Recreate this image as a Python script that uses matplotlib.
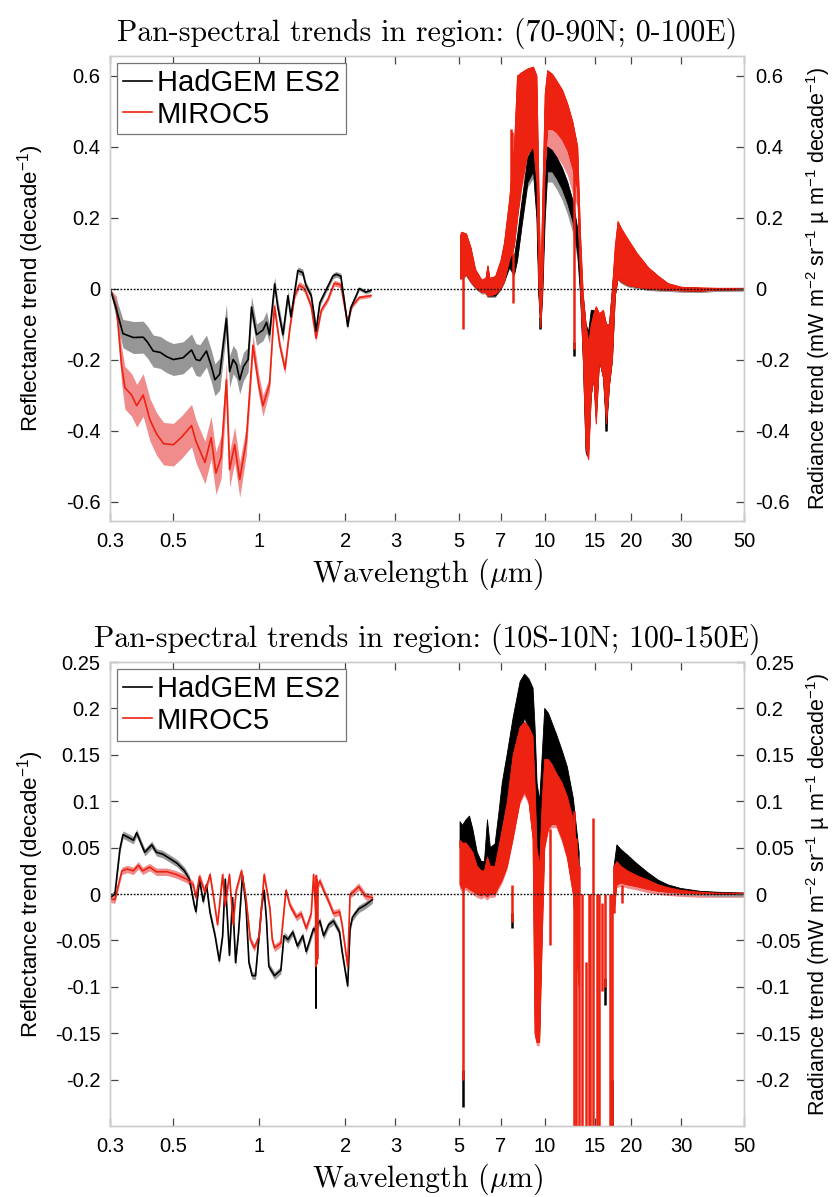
"""
Pan-spectral trends, HadGEM ES2 vs MIROC5
"""

import numpy as np
import matplotlib
matplotlib.use('Agg')
import matplotlib.pyplot as plt
from matplotlib.lines import Line2D

plt.rcParams['font.family'] = ['Liberation Sans', 'DejaVu Sans']
plt.rcParams['axes.unicode_minus'] = False
plt.rcParams['mathtext.fontset'] = 'custom'
plt.rcParams['mathtext.rm'] = 'Liberation Sans'
plt.rcParams['mathtext.it'] = 'Liberation Sans:italic'
plt.rcParams['mathtext.bf'] = 'Liberation Sans:bold'

RED = '#ee2211'
PINK = '#f08c8c'
GREY = '#969696'

# ---------------- axes ----------------
x_ticks = [0.3, 0.5, 1, 2, 3, 5, 7, 10, 15, 20, 30, 50]
x_labels = ['0.3', '0.5', '1', '2', '3', '5', '7', '10', '15', '20', '30', '50']
faint_ticks = [0.3, 3, 7, 15, 30]

top_yticks = [-0.6, -0.4, -0.2, 0, 0.2, 0.4, 0.6]
bot_yticks = [-0.2, -0.15, -0.1, -0.05, 0, 0.05, 0.1, 0.15, 0.2, 0.25]

top_title = 'Pan-spectral trends in region: (70-90N; 0-100E)'
bot_title = 'Pan-spectral trends in region: (10S-10N; 100-150E)'

# ---------------- top panel, shortwave ----------------
had_sw_wl_top = [0.30, 0.316, 0.333, 0.362, 0.392, 0.405, 0.425, 0.45, 0.474, 0.50,
                 0.541, 0.579, 0.60, 0.619, 0.653, 0.68, 0.699, 0.727, 0.767, 0.787,
                 0.81, 0.832, 0.854, 0.88, 0.914, 0.939, 0.978, 1.03, 1.06, 1.086,
                 1.132, 1.16, 1.21, 1.26, 1.29, 1.33, 1.365, 1.42, 1.455, 1.52,
                 1.56, 1.58, 1.63, 1.69, 1.81, 1.86, 1.93, 1.99, 2.04, 2.09,
                 2.24, 2.36, 2.46]
had_sw_top = [0, -0.06, -0.127, -0.138, -0.137, -0.15, -0.176, -0.18, -0.192, -0.2,
              -0.195, -0.173, -0.2, -0.203, -0.176, -0.22, -0.257, -0.241, -0.084, -0.234,
              -0.2, -0.214, -0.257, -0.22, -0.2, -0.052, -0.13, -0.117, -0.095, -0.13,
              0.013, -0.05, -0.13, -0.02, -0.08, -0.01, 0.051, 0.045, 0.01, -0.02,
              -0.08, -0.12, -0.04, -0.014, 0.035, 0.04, 0.035, -0.04, -0.107, -0.055,
              0.0, -0.01, -0.005]
had_sw_sd_top = [0, 0.03, 0.04, 0.045, 0.045, 0.045, 0.045, 0.045, 0.045, 0.045,
                 0.045, 0.045, 0.045, 0.045, 0.045, 0.045, 0.045, 0.045, 0.04, 0.045,
                 0.04, 0.04, 0.04, 0.04, 0.035, 0.03, 0.03, 0.03, 0.03, 0.025,
                 0.02, 0.02, 0.02, 0.015, 0.015, 0.012, 0.01, 0.01, 0.01, 0.01,
                 0.01, 0.01, 0.01, 0.008, 0.008, 0.008, 0.008, 0.008, 0.008, 0.008,
                 0.005, 0.005, 0.005]

mir_sw_wl_top = [0.30, 0.316, 0.329, 0.338, 0.357, 0.372, 0.392, 0.414, 0.437, 0.462,
                 0.50, 0.535, 0.579, 0.60, 0.645, 0.678, 0.705, 0.735, 0.767, 0.787,
                 0.82, 0.854, 0.90, 0.95, 0.995, 1.03, 1.086, 1.13, 1.18, 1.23,
                 1.28, 1.33, 1.38, 1.44, 1.52, 1.58, 1.65, 1.74, 1.83, 1.93,
                 1.99, 2.04, 2.11, 2.24, 2.46]
mir_sw_top = [0, -0.052, -0.214, -0.279, -0.3, -0.33, -0.3, -0.37, -0.41, -0.437,
              -0.44, -0.418, -0.386, -0.43, -0.49, -0.42, -0.52, -0.475, -0.257, -0.51,
              -0.44, -0.538, -0.43, -0.16, -0.27, -0.33, -0.27, -0.05, -0.16, -0.227,
              -0.11, -0.02, 0.01, 0.0, -0.05, -0.14, -0.06, -0.03, 0.015, 0.01,
              -0.05, -0.095, -0.05, -0.025, -0.02]
mir_sw_sd_top = [0, 0.03, 0.05, 0.06, 0.06, 0.06, 0.06, 0.06, 0.06, 0.06,
                 0.06, 0.06, 0.06, 0.06, 0.06, 0.06, 0.06, 0.06, 0.05, 0.05,
                 0.05, 0.05, 0.04, 0.03, 0.03, 0.03, 0.02, 0.015, 0.015, 0.015,
                 0.012, 0.01, 0.01, 0.01, 0.01, 0.01, 0.008, 0.008, 0.008, 0.008,
                 0.008, 0.008, 0.006, 0.005, 0.005]

# ---------------- top panel, longwave (envelope of the dense spectrum) ----------------
ir_wl_top = [5.05, 5.1, 5.3, 5.5, 5.7, 6.0, 6.2, 6.3, 6.4, 6.7,
             7.0, 7.2, 7.5, 7.8, 8.0, 8.3, 8.7, 9.1, 9.35, 9.5,
             9.65, 9.8, 10.0, 10.2, 10.6, 11.0, 11.5, 12.0, 12.5, 13.0,
             13.3, 13.6, 13.9, 14.2, 14.5, 14.8, 15.1, 15.5, 16.0, 16.4,
             16.8, 17.2, 17.6, 18.0, 18.5, 19.5, 21, 23, 25, 27,
             30, 35, 40, 50]
mir_hi_top = [0.15, 0.16, 0.155, 0.115, 0.055, 0.025, 0.03, 0.065, 0.03, 0.035,
              0.08, 0.13, 0.25, 0.40, 0.60, 0.61, 0.62, 0.625, 0.60, 0.30,
              0.0, 0.25, 0.55, 0.615, 0.605, 0.585, 0.56, 0.52, 0.47, 0.40,
              0.15, -0.02, -0.10, -0.15, -0.10, -0.07, -0.05, -0.07, -0.06, -0.10,
              -0.10, 0.0, 0.12, 0.19, 0.17, 0.14, 0.10, 0.06, 0.035, 0.015,
              0.005, 0.003, 0.002, 0.002]
mir_lo_top = [0.03, 0.03, 0.04, 0.02, 0.005, -0.01, -0.01, -0.02, -0.02, -0.015,
              0.0, 0.02, 0.08, 0.12, 0.20, 0.30, 0.38, 0.40, 0.30, 0.0,
              -0.11, 0.0, 0.35, 0.45, 0.45, 0.44, 0.42, 0.39, 0.34, 0.28,
              0.0, -0.2, -0.45, -0.48, -0.30, -0.25, -0.38, -0.2, -0.25, -0.38,
              -0.27, -0.2, -0.02, 0.03, 0.02, 0.01, 0.005, 0.0, -0.002, -0.003,
              -0.005, -0.006, -0.003, -0.002]
mir_sd_top = [0.005, 0.005, 0.005, 0.005, 0.005, 0.005, 0.005, 0.005, 0.005, 0.005,
              0.005, 0.005, 0.005, 0.005, 0.01, 0.02, 0.03, 0.03, 0.02, 0.01,
              0.005, 0.01, 0.04, 0.07, 0.07, 0.07, 0.07, 0.07, 0.07, 0.05,
              0.005, 0.005, 0.005, 0.005, 0.005, 0.005, 0.005, 0.005, 0.005, 0.005,
              0.005, 0.005, 0.005, 0.005, 0.005, 0.005, 0.005, 0.005, 0.005, 0.005,
              0.005, 0.005, 0.005, 0.005]
had_hi_top = [0.14, 0.15, 0.15, 0.11, 0.05, 0.02, 0.025, 0.06, 0.025, 0.03,
              0.07, 0.12, 0.10, 0.09, 0.15, 0.25, 0.37, 0.40, 0.30, 0.0,
              -0.08, 0.1, 0.3, 0.40, 0.39, 0.37, 0.34, 0.30, 0.25, 0.17,
              0.0, -0.02, -0.10, -0.12, -0.06, -0.06, -0.07, -0.08, -0.07, -0.10,
              -0.10, 0.0, 0.09, 0.15, 0.14, 0.12, 0.08, 0.05, 0.03, 0.012,
              0.004, 0.002, 0.001, 0.001]
had_lo_top = [0.03, 0.03, 0.04, 0.02, 0.005, -0.01, -0.01, -0.02, -0.02, -0.02,
              0.0, 0.02, 0.06, 0.04, 0.08, 0.18, 0.30, 0.33, 0.2, -0.02,
              -0.11, -0.02, 0.2, 0.33, 0.33, 0.31, 0.28, 0.24, 0.19, 0.10,
              -0.02, -0.2, -0.46, -0.45, -0.30, -0.25, -0.36, -0.2, -0.25, -0.40,
              -0.27, -0.2, -0.02, 0.03, 0.02, 0.01, 0.005, 0.0, -0.002, -0.003,
              -0.005, -0.006, -0.003, -0.002]
had_sd_top = [0.005, 0.005, 0.005, 0.005, 0.005, 0.005, 0.005, 0.005, 0.005, 0.005,
              0.005, 0.005, 0.005, 0.005, 0.005, 0.01, 0.015, 0.02, 0.01, 0.005,
              0.005, 0.005, 0.02, 0.03, 0.03, 0.03, 0.03, 0.03, 0.03, 0.02,
              0.005, 0.005, 0.005, 0.005, 0.005, 0.005, 0.005, 0.005, 0.005, 0.005,
              0.005, 0.005, 0.005, 0.005, 0.005, 0.005, 0.005, 0.005, 0.005, 0.005,
              0.005, 0.005, 0.005, 0.005]

# narrow lines sticking out of the envelope
mir_spk_wl_top = [5.18, 7.62, 7.68, 7.72, 12.65]
mir_spk_hi_top = [0.06, 0.45, 0.44, 0.1, 0.33]
mir_spk_lo_top = [-0.115, 0.1, 0.1, -0.04, -0.17]
had_spk_wl_top = [9.62, 12.65, 14.05, 16.45]
had_spk_hi_top = [-0.08, -0.15, -0.44, -0.36]
had_spk_lo_top = [-0.115, -0.19, -0.47, -0.40]

# ---------------- bottom panel, shortwave ----------------
had_sw_wl_bot = [0.30, 0.312, 0.325, 0.333, 0.348, 0.362, 0.372, 0.387, 0.397, 0.42,
                 0.436, 0.459, 0.493, 0.516, 0.547, 0.569, 0.592, 0.60, 0.617, 0.636,
                 0.653, 0.672, 0.70, 0.724, 0.744, 0.76, 0.786, 0.806, 0.826, 0.846,
                 0.873, 0.898, 0.92, 0.944, 0.97, 1.02, 1.04, 1.06, 1.08, 1.13,
                 1.19, 1.22, 1.26, 1.31, 1.36, 1.42, 1.46, 1.52, 1.55, 1.575,
                 1.58, 1.585, 1.63, 1.68, 1.75, 1.82, 1.91, 1.95, 2.04, 2.08,
                 2.12, 2.23, 2.35, 2.49]
had_sw_bot = [-0.004, 0.0, 0.049, 0.064, 0.061, 0.058, 0.066, 0.053, 0.045, 0.053,
              0.045, 0.043, 0.037, 0.033, 0.025, 0.016, -0.012, -0.019, 0.016, -0.008,
              0.01, -0.02, -0.045, -0.072, -0.045, 0.016, -0.066, -0.004, -0.074, -0.041,
              0.02, -0.012, -0.074, -0.088, -0.088, -0.012, 0.004, -0.029, -0.078, -0.088,
              -0.082, -0.045, -0.049, -0.041, -0.056, -0.045, -0.062, -0.045, -0.037, -0.04,
              -0.123, -0.035, -0.029, -0.045, -0.033, -0.029, -0.041, -0.062, -0.099, -0.037,
              -0.025, -0.016, -0.012, -0.006]
had_sw_sd_bot = 0.004

mir_sw_wl_bot = [0.30, 0.312, 0.33, 0.344, 0.362, 0.377, 0.39, 0.413, 0.436, 0.475,
                 0.513, 0.557, 0.587, 0.60, 0.617, 0.645, 0.672, 0.695, 0.714, 0.744,
                 0.76, 0.786, 0.81, 0.83, 0.866, 0.898, 0.93, 0.96, 1.0, 1.04,
                 1.09, 1.11, 1.13, 1.19, 1.24, 1.28, 1.35, 1.4, 1.46, 1.52,
                 1.55, 1.575, 1.58, 1.585, 1.59, 1.595, 1.60, 1.605, 1.63, 1.68,
                 1.75, 1.82, 1.91, 1.95, 2.04, 2.08, 2.13, 2.23, 2.35, 2.49]
mir_sw_bot = [-0.005, -0.006, 0.025, 0.027, 0.025, 0.031, 0.025, 0.029, 0.024, 0.024,
              0.021, 0.016, 0.01, -0.004, 0.019, 0.002, 0.021, -0.008, -0.033, 0.021,
              -0.012, 0.021, -0.033, 0.004, 0.025, -0.004, -0.049, -0.058, -0.045, 0.021,
              -0.016, -0.049, -0.058, -0.053, 0.004, -0.012, -0.025, -0.021, -0.037, -0.021,
              0.021, -0.02, -0.078, 0.02, -0.075, 0.015, -0.07, 0.01, 0.014, 0.004,
              -0.008, -0.021, -0.019, -0.033, -0.078, 0.0, 0.002, 0.008, -0.002, -0.004]
mir_sw_sd_bot = 0.004

# ---------------- bottom panel, longwave ----------------
ir_wl_bot = [5.05, 5.15, 5.3, 5.45, 5.6, 5.8, 6.0, 6.15, 6.3, 6.45,
             6.7, 6.9, 7.1, 7.4, 7.75, 8.2, 8.5, 8.8, 9.1, 9.25,
             9.4, 9.6, 9.8, 10.0, 10.3, 10.6, 11.0, 11.5, 12.0, 12.6,
             13.2, 15.0, 17.5, 17.9, 18.5, 19.5, 21, 23, 25, 27,
             30, 35, 40, 50]
nan = np.nan
had_hi_bot = [0.078, 0.074, 0.08, 0.084, 0.07, 0.045, 0.035, 0.035, 0.08, 0.05,
              0.054, 0.086, 0.12, 0.152, 0.19, 0.229, 0.237, 0.232, 0.222, 0.18,
              0.12, 0.10, 0.15, 0.2, 0.195, 0.185, 0.172, 0.155, 0.137, 0.103,
              0.045, nan, 0.03, 0.053, 0.048, 0.042, 0.033, 0.023, 0.015, 0.01,
              0.006, 0.003, 0.002, 0.001]
had_lo_bot = [0.05, 0.045, 0.05, 0.05, 0.045, 0.028, 0.022, 0.02, 0.025, 0.025,
              0.03, 0.04, 0.06, 0.09, 0.12, 0.17, 0.19, 0.18, 0.15, 0.05,
              -0.1, -0.15, 0.02, 0.12, 0.13, 0.13, 0.12, 0.1, 0.08, 0.03,
              -0.05, nan, 0.0, 0.03, 0.026, 0.022, 0.017, 0.011, 0.006, 0.004,
              0.002, 0.001, 0.0, 0.0]
mir_hi_bot = [0.058, 0.055, 0.055, 0.05, 0.045, 0.03, 0.025, 0.025, 0.04, 0.03,
              0.03, 0.05, 0.07, 0.1, 0.15, 0.18, 0.185, 0.18, 0.17, 0.12,
              0.05, 0.03, 0.1, 0.145, 0.145, 0.14, 0.13, 0.12, 0.105, 0.08,
              0.03, nan, 0.03, 0.035, 0.03, 0.025, 0.02, 0.015, 0.01, 0.007,
              0.004, 0.002, 0.001, 0.001]
mir_lo_bot = [0.01, 0.005, 0.008, 0.005, 0.003, 0.0, -0.002, 0.0, -0.003, 0.0,
              0.0, 0.008, 0.015, 0.03, 0.06, 0.1, 0.11, 0.1, 0.06, -0.15,
              -0.16, -0.16, -0.05, 0.05, 0.07, 0.075, 0.075, 0.06, 0.04, 0.0,
              -0.1, nan, -0.02, 0.01, 0.012, 0.01, 0.008, 0.005, 0.003, 0.002,
              0.001, 0.0, 0.0, 0.0]
had_sd_bot = 0.003
mir_sd_bot = 0.004

mir_spk_wl_bot = [5.18, 7.65, 10.45, 12.65, 12.9, 13.2, 13.5, 14.0, 14.25, 14.45,
                  14.8, 15.2, 15.5, 15.9, 16.3, 16.9, 17.2, 17.45, 18.7]
mir_spk_hi_bot = [0.03, 0.01, 0.07, 0.09, 0.06, 0.03, 0.0, -0.073, 0.0, 0.0,
                  0.082, 0.0, 0.0, -0.01, 0.0, 0.0, 0.0, 0.03, 0.01]
mir_spk_lo_bot = [-0.2, -0.03, -0.055, -0.26, -0.26, -0.26, -0.26, -0.26, -0.26, -0.26,
                  -0.26, -0.26, -0.26, -0.105, -0.1, -0.26, -0.26, -0.02, -0.01]
had_spk_wl_bot = [5.18, 7.65, 16.3, 17.2]
had_spk_hi_bot = [-0.19, -0.02, -0.09, -0.2]
had_spk_lo_bot = [-0.23, -0.037, -0.12, -0.26]


def draw_sw(ax, wl, val, sd, color, shade, z):
    wl = np.asarray(wl)
    val = np.asarray(val)
    sd = np.asarray(sd)
    ax.fill_between(wl, val - sd, val + sd, color=shade, lw=0, zorder=z)
    ax.plot(wl, val, color=color, lw=1.2, zorder=z + 2)


def draw_ir(ax, wl, hi, lo, sd, color, shade, z):
    wl = np.asarray(wl)
    hi = np.asarray(hi)
    lo = np.asarray(lo)
    sd = np.asarray(sd)
    # the spread shading mostly shows beneath the dense part of the spectrum
    ax.fill_between(wl, lo - sd, hi, color=shade, lw=0, zorder=z)
    ax.fill_between(wl, lo, hi, facecolor=color, edgecolor=color, lw=0.6, zorder=z + 2)


def draw_spikes(ax, wl, hi, lo, color, z):
    ax.vlines(wl, lo, hi, color=color, lw=1.8, zorder=z)


def setup_axes(ax, yticks, ylim, title):
    ax.set_xscale('log')
    ax.set_xlim(0.3, 50)
    ax.set_ylim(-ylim, ylim)
    ax.set_xticks(x_ticks)
    ax.set_xticklabels(x_labels)
    ax.xaxis.set_minor_locator(plt.NullLocator())
    ax.set_yticks(yticks)
    ax.set_yticklabels(['%g' % t for t in yticks])
    ax.tick_params(axis='both', direction='in', length=6, width=0.9, color='#444444',
                   labelsize=14.5)
    ax.tick_params(axis='x', top=True, pad=8)
    ax.tick_params(axis='y', right=False, pad=7)
    for t, tick in zip(x_ticks, ax.xaxis.get_major_ticks()):
        if t in faint_ticks:
            tick.tick1line.set_color('#cfcfcf')
            tick.tick2line.set_color('#cfcfcf')
    for sp in ax.spines.values():
        sp.set_color('#cccccc')
        sp.set_linewidth(1.0)
    ax.axhline(0, color='k', ls=(0, (1.2, 1.2)), lw=1.0, zorder=20)

    ax.set_title(title, fontfamily='cmr10', fontsize=21.5, pad=11)
    ax.set_xlabel(r'Wavelength ($\mu$m)', fontfamily='cmr10', math_fontfamily='cm',
                  fontsize=21.5, labelpad=4)
    ax.set_ylabel(r'Reflectance trend (decade$^{\mathregular{-1}}$)', fontsize=16)
    ax.yaxis.set_label_coords(-0.101, 0.5)

    ax2 = ax.twinx()
    ax2.set_ylim(-ylim, ylim)
    ax2.set_yticks(yticks)
    ax2.set_yticklabels(['%g' % t for t in yticks])
    ax2.tick_params(axis='y', direction='in', length=6, width=0.9, color='#444444',
                    labelsize=14.5, pad=8)
    for sp in ax2.spines.values():
        sp.set_color('#cccccc')
        sp.set_linewidth(1.0)
    ax2.set_ylabel(r'Radiance trend (mW m$^{\mathregular{-2}}$ sr$^{\mathregular{-1}}$'
                   r' µ m$^{\mathregular{-1}}$ decade$^{\mathregular{-1}}$)', fontsize=15.5)
    ax2.yaxis.set_label_coords(1.095, 0.5)

    handles = [Line2D([], [], color='k', lw=1.2), Line2D([], [], color=RED, lw=1.2)]
    leg = ax.legend(handles, ['HadGEM ES2', 'MIROC5'], loc='upper left', fontsize=21,
                    fancybox=False, framealpha=1, edgecolor='#777777',
                    handlelength=1.0, handletextpad=0.15, borderpad=0.2,
                    labelspacing=0.12, borderaxespad=0.25)
    leg.get_frame().set_linewidth(0.9)
    leg.set_zorder(30)
    return ax2


fig = plt.figure(figsize=(8.4, 11.97), dpi=100)
ax_top = fig.add_axes([0.131, 0.5647, 0.755, 0.3885])
ax_bot = fig.add_axes([0.131, 0.0593, 0.755, 0.3876])

# top panel
draw_sw(ax_top, mir_sw_wl_top, mir_sw_top, mir_sw_sd_top, RED, PINK, 2)
draw_sw(ax_top, had_sw_wl_top, had_sw_top, had_sw_sd_top, 'k', GREY, 3)
draw_ir(ax_top, ir_wl_top, mir_hi_top, mir_lo_top, mir_sd_top, RED, PINK, 1)
draw_ir(ax_top, ir_wl_top, had_hi_top, had_lo_top, had_sd_top, 'k', GREY, 2)
draw_spikes(ax_top, had_spk_wl_top, had_spk_hi_top, had_spk_lo_top, 'k', 4)
draw_ir(ax_top, ir_wl_top, mir_hi_top, mir_lo_top, 0, RED, RED, 5)
draw_spikes(ax_top, mir_spk_wl_top, mir_spk_hi_top, mir_spk_lo_top, RED, 8)
setup_axes(ax_top, top_yticks, 0.655, top_title)

# bottom panel
draw_sw(ax_bot, had_sw_wl_bot, had_sw_bot, had_sw_sd_bot, 'k', GREY, 2)
draw_sw(ax_bot, mir_sw_wl_bot, mir_sw_bot, mir_sw_sd_bot, RED, PINK, 3)
draw_ir(ax_bot, ir_wl_bot, mir_hi_bot, mir_lo_bot, mir_sd_bot, RED, PINK, 1)
draw_ir(ax_bot, ir_wl_bot, had_hi_bot, had_lo_bot, had_sd_bot, 'k', GREY, 2)
draw_spikes(ax_bot, had_spk_wl_bot, had_spk_hi_bot, had_spk_lo_bot, 'k', 4)
draw_ir(ax_bot, ir_wl_bot, mir_hi_bot, mir_lo_bot, 0, RED, RED, 5)
draw_spikes(ax_bot, mir_spk_wl_bot, mir_spk_hi_bot, mir_spk_lo_bot, RED, 8)
setup_axes(ax_bot, bot_yticks, 0.25, bot_title)

fig.savefig('out.png', dpi=100)
